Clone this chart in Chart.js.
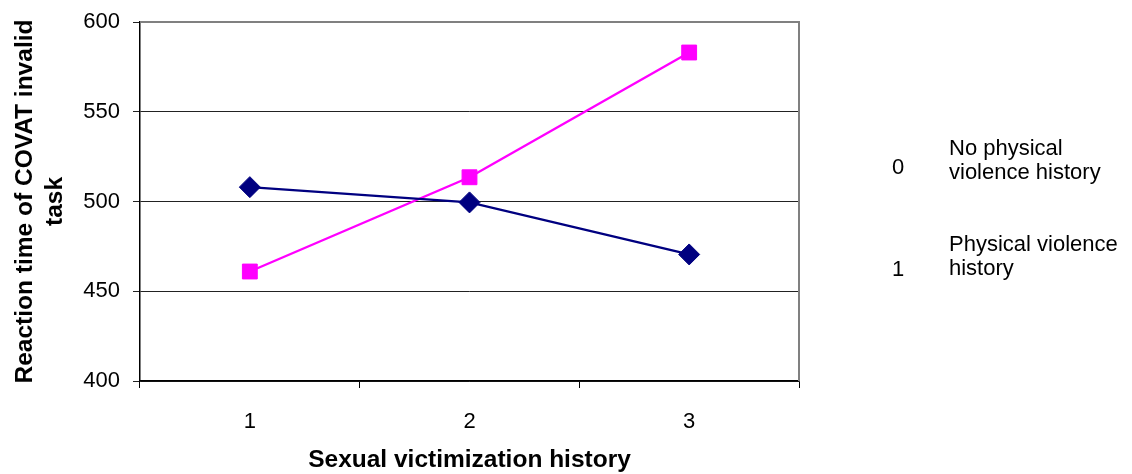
<!DOCTYPE html>
<html>
<head>
<meta charset="utf-8">
<script src="https://cdn.jsdelivr.net/npm/chart.js@4/dist/chart.umd.min.js"></script>
<style>
  html, body { margin: 0; padding: 0; background: #fff; }
  #wrap { position: relative; width: 1132px; height: 474px; }
  canvas { display: block; }
  .lg { position: absolute; font-family: "Liberation Sans", Arial, sans-serif; color: #000; font-size: 22px; white-space: nowrap; }
  .txt { line-height: 24px; }
</style>
</head>
<body>
<div id="wrap">
  <canvas id="c" width="1132" height="474"></canvas>
  <div class="lg" style="left:892px; top:154px;">0</div>
  <div class="lg txt" style="left:949px; top:136px;">No physical<br>violence history</div>
  <div class="lg" style="left:892px; top:256px;">1</div>
  <div class="lg txt" style="left:949px; top:232px;">Physical violence<br>history</div>
</div>
<script>
// Reaction times by sexual victimization history, split by physical violence history
const categories = ['1', '2', '3'];
const noPhysicalViolence = [508, 499.5, 470.5];
const physicalViolence = [461, 513.5, 583];
const yTicks = [400, 450, 500, 550, 600];

const FONT = '"Liberation Sans", Arial, sans-serif';

// Gray top and right frame of the plot area
const frame = {
  id: 'frame',
  afterDraw(chart) {
    const { ctx, chartArea: a } = chart;
    ctx.save();
    ctx.strokeStyle = '#808080';
    ctx.lineWidth = 2;
    ctx.beginPath();
    ctx.moveTo(a.left, a.top);
    ctx.lineTo(a.right, a.top);
    ctx.lineTo(a.right, a.bottom);
    ctx.stroke();
    ctx.restore();
  }
};

new Chart(document.getElementById('c'), {
  type: 'line',
  data: {
    labels: categories,
    datasets: [
      {
        label: 'No physical violence history',
        data: noPhysicalViolence,
        borderColor: '#000080',
        backgroundColor: '#000080',
        borderWidth: 2.4,
        pointStyle: 'rectRot',
        pointRadius: 10.5,
        pointBorderWidth: 1,
        tension: 0
      },
      {
        label: 'Physical violence history',
        data: physicalViolence,
        borderColor: '#FF00FF',
        backgroundColor: '#FF00FF',
        borderWidth: 2.4,
        pointStyle: 'rect',
        pointRadius: 10.5,
        pointBorderWidth: 1,
        tension: 0
      }
    ]
  },
  options: {
    responsive: false,
    animation: false,
    layout: { padding: { left: 0, right: 333, top: 22, bottom: 0 } },
    plugins: {
      legend: { display: false },
      tooltip: { enabled: false }
    },
    scales: {
      x: {
        offset: true,
        afterFit(s) { s.height = 93; },
        grid: {
          offset: true,
          drawOnChartArea: false,
          drawTicks: true,
          tickLength: 7,
          color: '#000',
          lineWidth: 1
        },
        border: { color: '#000', width: 1.5 },
        ticks: {
          color: '#000',
          font: { family: FONT, size: 22 },
          padding: 21
        },
        title: {
          display: true,
          text: 'Sexual victimization history',
          color: '#000',
          font: { family: FONT, size: 24.5, weight: 'bold', lineHeight: 1.1 },
          padding: { top: 0, bottom: 0 }
        }
      },
      y: {
        min: 400,
        max: 600,
        afterFit(s) {
          s.width = 140;
          s.paddingTop = 0;
          s.paddingBottom = 0;
        },
        afterBuildTicks(s) { s.ticks = yTicks.map(v => ({ value: v })); },
        grid: {
          color: '#222',
          lineWidth: 1,
          tickLength: 7
        },
        border: { color: '#000', width: 1.5 },
        ticks: {
          color: '#000',
          font: { family: FONT, size: 22 },
          padding: 13
        },
        title: {
          display: true,
          text: ['Reaction time of COVAT invalid', 'task'],
          color: '#000',
          font: { family: FONT, size: 24.5, weight: 'bold', lineHeight: 1.2 },
          padding: { top: 11, bottom: 0 }
        }
      }
    }
  },
  plugins: [frame]
});
</script>
</body>
</html>
